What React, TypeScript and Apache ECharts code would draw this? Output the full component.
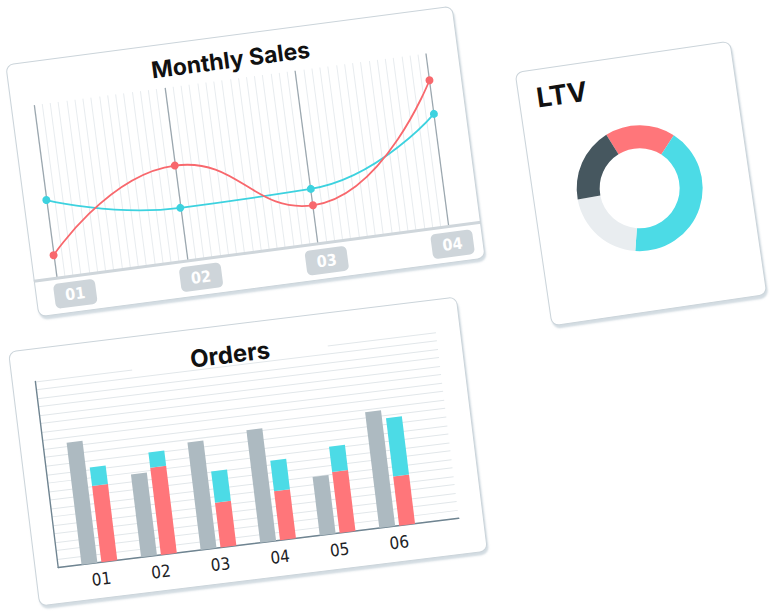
import React, { useEffect, useRef } from "react";
import * as echarts from "echarts";

// ---- data ----
const salesCategories = ["01", "02", "03", "04"];
const salesRed = [13, 55, 22, 84.5];
const salesCyan = [45, 30.5, 31.5, 65];

const orderCategories = ["01", "02", "03", "04", "05", "06"];
const ordersGray = [144, 98, 127, 133, 69, 137];
const ordersRed = [90, 103, 53, 58, 72, 58];
const ordersCyan = [22, 18, 37, 36, 30, 69];

const ltvNames = ["Segment A", "Segment B", "Segment C", "Segment D"];
const ltvValues = [18, 42, 21, 19];

// ---- styles ----
const RED_LINE = "#f8686d";
const CYAN_LINE = "#3dd2df";
const BAR_GRAY = "#adbac1";
const BAR_RED = "#ff767a";
const BAR_CYAN = "#4cdbe6";
const LTV_COLORS = ["#ff767a", "#4cdbe6", "#e9edf0", "#46575f"];
const TITLE_FONT = "Inter, 'Open Sans', sans-serif";
const NARROW_FONT =
  "'Liberation Sans Narrow', 'Noto Sans Condensed', 'DejaVu Sans Condensed', 'Roboto Condensed', Roboto, sans-serif";

function titleText(text: string, x: number, y: number, size: number, align: string) {
  return {
    type: "text",
    z: 101,
    x,
    y,
    style: {
      text,
      fontSize: size,
      fontWeight: "bold",
      fontFamily: TITLE_FONT,
      fill: "#111111",
      textAlign: align,
      align,
      verticalAlign: "middle",
      textVerticalAlign: "middle",
    },
  };
}

const salesOption: any = {
  animation: false,
  grid: [
    { left: 23, right: 32.5, top: 44, bottom: 37 },
    { left: 0, right: 0, top: 44, bottom: 37 },
    { left: 39.5, right: 31, top: 44, bottom: 37 },
  ],
  xAxis: [
    {
      gridIndex: 0,
      type: "value",
      min: 0,
      max: 3,
      interval: 1,
      axisLine: { show: false },
      axisTick: { show: false },
      axisLabel: { show: false },
      splitLine: { show: true, lineStyle: { color: "#9ba7af", width: 1.3 } },
      minorTick: { show: false, splitNumber: 16 },
      minorSplitLine: { show: true, lineStyle: { color: "#e8ecef", width: 1 } },
    },
    {
      gridIndex: 1,
      type: "value",
      min: 0,
      max: 1,
      axisLine: { show: true, onZero: false, lineStyle: { color: "#cfd6db", width: 3 } },
      axisTick: { show: false },
      axisLabel: { show: false },
      splitLine: { show: false },
    },
    {
      gridIndex: 2,
      type: "category",
      data: salesCategories,
      boundaryGap: false,
      axisLine: { show: false },
      axisTick: { show: false },
      splitLine: { show: false },
      axisLabel: {
        interval: 0,
        margin: 6,
        color: "#ffffff",
        fontFamily: NARROW_FONT,
        fontWeight: "bold",
        fontSize: 16,
        lineHeight: 17,
        backgroundColor: "#ced5da",
        borderRadius: 5,
        padding: [4, 11, 4, 11],
      },
    },
  ],
  yAxis: [
    { gridIndex: 0, type: "value", min: 0, max: 100, show: false },
    { gridIndex: 1, type: "value", min: 0, max: 1, show: false },
    { gridIndex: 2, type: "value", min: 0, max: 1, show: false },
  ],
  graphic: [titleText("Monthly Sales", 224, 25, 23, "center")],
  series: [
    {
      type: "line",
      xAxisIndex: 0,
      yAxisIndex: 0,
      smooth: true,
      symbol: "circle",
      symbolSize: 8,
      data: salesCategories.map((_, i) => [i, salesRed[i]]),
      lineStyle: { color: RED_LINE, width: 1.8 },
      itemStyle: { color: RED_LINE },
      z: 5,
    },
    {
      type: "line",
      xAxisIndex: 0,
      yAxisIndex: 0,
      smooth: true,
      symbol: "circle",
      symbolSize: 8,
      data: salesCategories.map((_, i) => [i, salesCyan[i]]),
      lineStyle: { color: CYAN_LINE, width: 1.8 },
      itemStyle: { color: CYAN_LINE },
      z: 4,
    },
  ],
};

const ordersOption: any = {
  animation: false,
  grid: [
    { left: 23.5, right: 25, top: 33, bottom: 36.5 },
    { left: 35, right: 57, top: 33, bottom: 36.5 },
  ],
  xAxis: [
    {
      gridIndex: 0,
      type: "value",
      min: 0,
      max: 1,
      axisLine: { show: true, lineStyle: { color: "#6f8491", width: 1.4 } },
      axisTick: { show: false },
      axisLabel: { show: false },
      splitLine: { show: false },
    },
    {
      gridIndex: 1,
      type: "category",
      data: orderCategories,
      axisLine: { show: false },
      axisTick: { show: false },
      axisLabel: {
        interval: 0,
        margin: 8,
        fontSize: 17,
        fontWeight: 500,
        color: "#1d2226",
        fontFamily: NARROW_FONT,
      },
    },
  ],
  yAxis: [
    {
      gridIndex: 0,
      type: "value",
      min: 0,
      max: 220,
      interval: 10,
      axisLine: { show: true, lineStyle: { color: "#6f8491", width: 1.4 } },
      axisTick: { show: false },
      axisLabel: { show: false },
      splitLine: { show: true, lineStyle: { color: "#e2e7ea", width: 1 } },
    },
    { gridIndex: 1, type: "value", min: 0, max: 220, show: false },
  ],
  graphic: [
    { type: "rect", z: 100, shape: { x: 121, y: 12, width: 197, height: 25 }, style: { fill: "#ffffff" } },
    titleText("Orders", 220, 30, 24, "center"),
  ],
  series: [
    {
      type: "bar",
      xAxisIndex: 1,
      yAxisIndex: 1,
      data: ordersGray,
      barWidth: 16,
      barGap: "25%",
      itemStyle: { color: BAR_GRAY },
    },
    {
      type: "bar",
      xAxisIndex: 1,
      yAxisIndex: 1,
      stack: "orders",
      data: ordersRed,
      barWidth: 16,
      barGap: "25%",
      itemStyle: { color: BAR_RED },
    },
    {
      type: "bar",
      xAxisIndex: 1,
      yAxisIndex: 1,
      stack: "orders",
      data: ordersCyan,
      barWidth: 16,
      barGap: "25%",
      itemStyle: { color: BAR_CYAN },
    },
  ],
};

const ltvOption: any = {
  animation: false,
  graphic: [titleText("LTV", 18, 29, 27, "left")],
  series: [
    {
      type: "pie",
      center: [107, 133],
      radius: [40, 63],
      startAngle: 113.7,
      clockwise: true,
      silent: true,
      label: { show: false },
      labelLine: { show: false },
      data: ltvNames.map((n, i) => ({ name: n, value: ltvValues[i], itemStyle: { color: LTV_COLORS[i] } })),
    },
  ],
};

function Card(props: { w: number; h: number; cx: number; cy: number; rot: number; option: any }) {
  const { w, h, cx, cy, rot, option } = props;
  const ref = useRef<HTMLDivElement>(null);
  useEffect(() => {
    if (!ref.current) return;
    const chart = echarts.init(ref.current, undefined, { renderer: "svg" });
    chart.setOption(option);
    return () => chart.dispose();
  }, []);
  return (
    <div
      style={{
        position: "absolute",
        left: cx - w / 2,
        top: cy - h / 2,
        width: w,
        height: h,
        boxSizing: "border-box",
        background: "#ffffff",
        border: "1px solid #cbd4da",
        borderRadius: 8,
        boxShadow: "1px 3px 2px rgba(175,192,202,0.55)",
        transform: `rotate(${rot}deg)`,
      }}
    >
      <div ref={ref} style={{ position: "absolute", left: -1, top: -1, width: w, height: h }} />
    </div>
  );
}

export default function App() {
  return (
    <div
      style={{
        position: "absolute",
        left: 0,
        top: 0,
        width: 776,
        height: 616,
        overflow: "hidden",
        background: "#ffffff",
      }}
    >
      <Card w={451} h={255} cx={245} cy={161.5} rot={-7.5} option={salesOption} />
      <Card w={452} h={257} cx={247.75} cy={451.5} rot={-7} option={ordersOption} />
      <Card w={218} h={257} cx={641} cy={183.75} rot={-8.3} option={ltvOption} />
    </div>
  );
}
